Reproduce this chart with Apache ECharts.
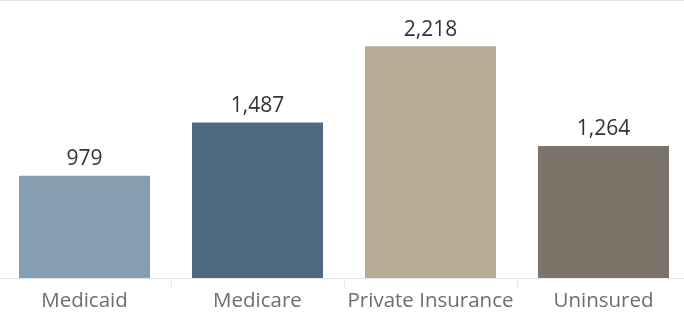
<!DOCTYPE html>
<html><head><meta charset="utf-8">
<script src="https://cdn.jsdelivr.net/npm/echarts@6/dist/echarts.min.js"></script>
<style>html,body{margin:0;padding:0;background:#fff}#c{width:684px;height:312px}</style>
</head><body><div id="c"></div>
<script>
const categories = ["Medicaid", "Medicare", "Private Insurance", "Uninsured"];
const values = [979, 1487, 2218, 1264];
const colors = ["#869eb2", "#4f6981", "#b9aa96", "#7c7369"];

const chart = echarts.init(document.getElementById('c'), null, {renderer: 'canvas'});
chart.setOption({
  animation: false,
  grid: {left: -2, width: 692, top: 0, bottom: 34, containLabel: false, outerBoundsMode: 'none'},
  xAxis: {
    type: 'category', data: categories,
    axisLine: {show: true, lineStyle: {color: '#e6e6e6', width: 1}},
    axisTick: {show: true, length: 10, lineStyle: {color: '#eaeaea'}},
    axisLabel: {interval: 0, color: '#6e6e6e', fontSize: 20.5, fontFamily: 'Open Sans', margin: 13}
  },
  yAxis: {type: 'value', min: 0, max: 2660, show: false, splitLine: {show: false}},
  graphic: [{type: 'line', shape: {x1: 0, y1: 0.5, x2: 684, y2: 0.5}, style: {stroke: '#e3e3e3', lineWidth: 1}}],
  series: [{
    type: 'bar', barWidth: 131,
    data: values.map((v, i) => ({value: v, itemStyle: {color: colors[i]}})),
    label: {show: true, position: 'top', distance: 6, color: '#333', fontSize: 21, fontFamily: 'Open Sans',
      formatter: p => p.value.toLocaleString('en-US')}
  }]
});
</script></body></html>
